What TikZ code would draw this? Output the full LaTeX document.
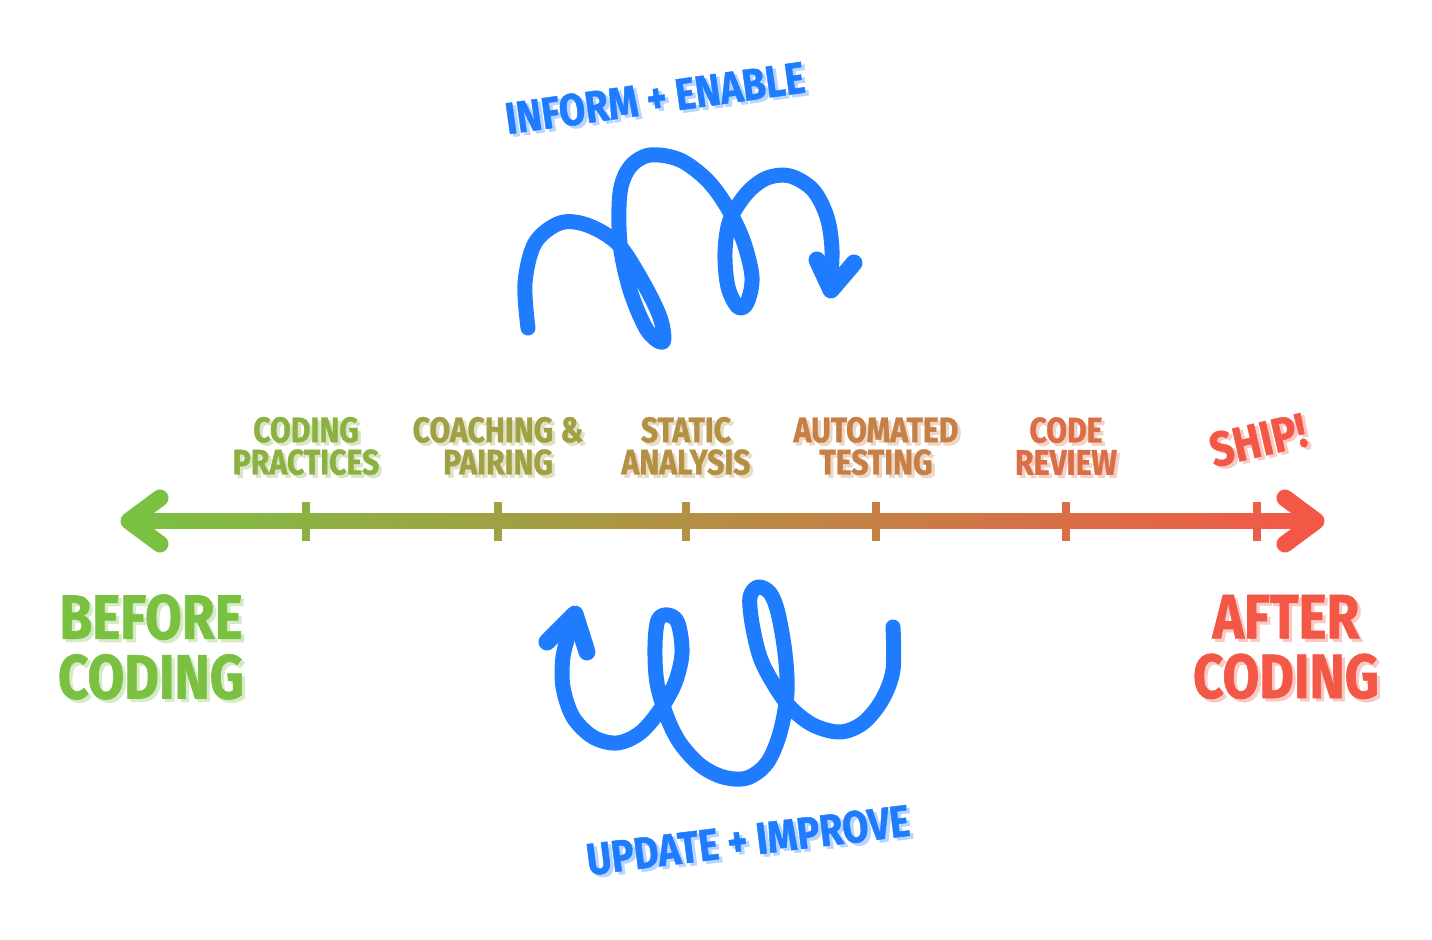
\documentclass[tikz,border=0pt]{standalone}
\usepackage{fontspec}
\newfontfamily\handfont{Fira Sans}[FakeStretch=0.85, FakeBold=1]
\usepackage{tikz}
\usetikzlibrary{calc}

\definecolor{verde}{RGB}{122,193,66}
\definecolor{rojo}{RGB}{243,88,71}
\definecolor{azul}{RGB}{31,124,255}

% texto con sombra clara desplazada
\newcommand\consombra[5][]{%
  \node[etiqueta, #1, text=#4!32, xshift=0.9pt, yshift=-0.9pt] at (#3) {#5};
  \node[etiqueta, #1, text=#4] (#2) at (#3) {#5};}

\begin{document}
\begin{tikzpicture}[
        x=0.1mm, y=-0.1mm,
        etiqueta/.style={align=center, inner sep=0pt},
        chica/.style={font=\handfont\bfseries\fontsize{10.1}{9.2}\selectfont},
        grande/.style={font=\handfont\bfseries\fontsize{17.8}{17}\selectfont},
        media/.style={font=\handfont\bfseries\fontsize{12.7}{13}\selectfont},
        punta/.style={line width=1.7mm, line cap=round, line join=round},
        marca/.style={line width=0.75mm},
        espiral/.style={azul, line width=1.5mm, line cap=round, line join=round}
    ]
        \useasboundingbox (0,0) rectangle (1432,940);

        % --- Eje del tiempo ---
        \def\xizq{129} % vertice de la punta izquierda
        \def\xder{1316} % vertice de la punta derecha
        \coordinate (west) at (\xizq,521);
        \coordinate (east) at (\xder,521);
        \shade[left color=verde, right color=rojo]
            ($(west)+(0,-7.5)$) rectangle ($(east)+(0,7.5)$);
        \draw[punta, verde] ($(west)+(31,-23)$) -- (west) -- ($(west)+(31,23)$);
        \draw[punta, rojo] ($(east)+(-31,-23)$) -- (east) -- ($(east)+(-31,23)$);

        % --- Marcas y etapas ---
        \foreach \x/\txt [count=\i] in {306/{CODING\\PRACTICES},
                498/{COACHING \&\\PAIRING}, 686/{STATIC\\ANALYSIS},
                876/{AUTOMATED\\TESTING}, 1066/{CODE\\REVIEW}, 1257/{}} {
            \pgfmathtruncatemacro\t{round((\x-120)/12.05)}
            \colorlet{mezcla}{rojo!\t!verde}
            \coordinate (t\i) at (\x,521);
            \draw[marca, mezcla] ($(t\i)+(0,-19)$) -- ($(t\i)+(0,20)$);
            \consombra[chica]{etapa\i}{\x,446}{mezcla}{\txt}
        }
        \consombra[rotate=13,
            font=\handfont\bfseries\fontsize{13.8}{14}\selectfont]{ship}{1258,440}{rojo}{SHIP!}

        % --- Extremos ---
        \consombra[grande]{before}{151,647}{verde}{BEFORE\\CODING}
        \consombra[grande]{after}{1286,647}{rojo}{AFTER\\CODING}

        % --- Espiral superior ---
        \consombra[media, rotate=8]{inform}{655,98}{azul}{INFORM + ENABLE}
        \draw[espiral] plot[smooth, tension=0.55] coordinates {
            (528,328) (525,283) (535,243) (560,223) (587,225) (617,243)
            (640,277) (660,317) (663,342) (647,330) (630,290) (620,243)
            (620,193) (630,167) (650,155) (680,160) (707,180) (727,207)
            (743,240) (752,277) (747,303) (738,307) (728,287) (725,253)
            (730,220) (747,193) (767,178) (790,176) (813,190) (827,217)
            (832,250) (830,290)};
        \coordinate (tipa) at (831,290);
        \draw[espiral, line width=1.7mm] ($(tipa)+(-14,-30)$) -- (tipa) -- ($(tipa)+(23,-27)$);

        % --- Espiral inferior ---
        \consombra[media, rotate=7]{update}{748,840}{azul}{UPDATE + IMPROVE}
        \draw[espiral] plot[smooth, tension=0.55] coordinates {
            (893,627) (893,670) (882,700) (863,723) (840,732) (813,725)
            (790,707) (773,683) (760,657) (752,623) (750,597) (758,587)
            (770,593) (778,613) (785,653) (787,693) (780,733) (767,763)
            (747,778) (723,777) (700,765) (680,743) (667,717) (657,683)
            (655,647) (658,620) (668,615) (678,623) (682,653) (675,683)
            (660,710) (640,733) (617,743) (593,737) (573,717) (563,687)
            (563,657) (570,630) (575,614)};
        \coordinate (tipb) at (575,614);
        \draw[espiral, line width=1.7mm] ($(tipb)+(-28,28)$) -- (tipb) -- ($(tipb)+(12,38)$);

    \end{tikzpicture}
\end{document}
